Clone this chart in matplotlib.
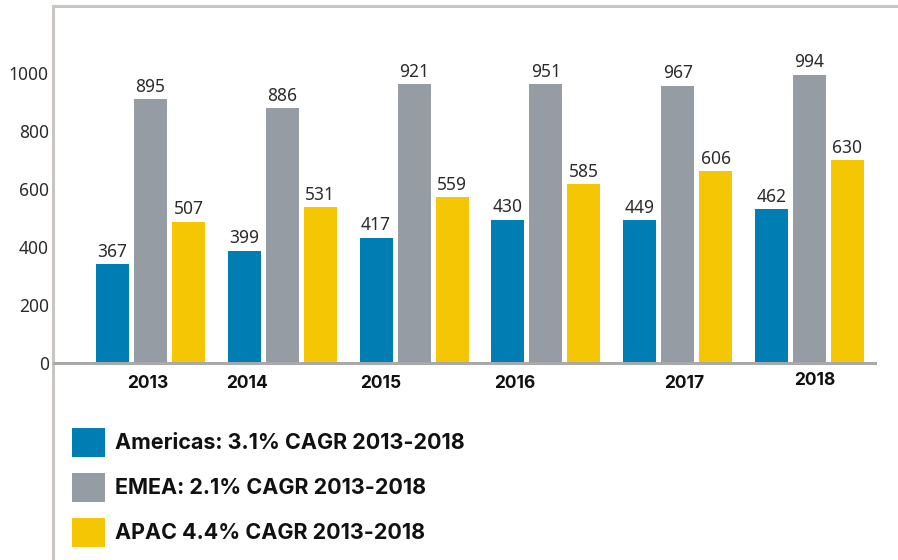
import matplotlib
matplotlib.use("Agg")
import matplotlib.pyplot as plt
from matplotlib.patches import Patch
import numpy as np

# ---- data ----
years = ["2013", "2014", "2015", "2016", "2017", "2018"]
series_names = ["Americas: 3.1% CAGR 2013-2018",
                "EMEA: 2.1% CAGR 2013-2018",
                "APAC 4.4% CAGR 2013-2018"]
# bar heights as drawn in the reference
americas = [338, 386, 431, 493, 490, 528]
emea = [907, 876, 959, 959, 955, 993]
apac = [486, 536, 570, 614, 659, 697]
# printed value labels
americas_labels = [367, 399, 417, 430, 449, 462]
emea_labels = [895, 886, 921, 951, 967, 994]
apac_labels = [507, 531, 559, 585, 606, 630]
yticks = [0, 200, 400, 600, 800, 1000]

# ---- style ----
colors = ["#007db2", "#959ca3", "#f4c604"]
text_col = "#2b2b2b"
num_font = "Noto Sans"
bold_font = "Inter"
year_shift = [-0.02, -0.27, -0.25, -0.24, 0.05, 0.04]  # year label nudges (group units)
year_dy = [0, 0, 0, 0, 0, 3]

W, H = 898, 560
fig = plt.figure(figsize=(W / 100, H / 100), dpi=100)
ax_left, ax_top = 53, 6
ax = fig.add_axes([ax_left / W, 0, (W - ax_left) / W, (H - ax_top) / H])

group_px = 131.8
step = 38 / group_px
width = 33 / group_px
c0 = 150.5
ax.set_xlim(-(c0 - ax_left) / group_px, (W - c0) / group_px)
scale = 0.290  # px per unit
zero_px = 362.5
ax.set_ylim(-(H - zero_px) / scale, (zero_px - ax_top) / scale)

x = np.arange(len(years))
all_vals = [americas, emea, apac]
all_labels = [americas_labels, emea_labels, apac_labels]
handles = []
for k, (vals, labs) in enumerate(zip(all_vals, all_labels)):
    xs = x + (k - 1) * step
    ax.bar(xs, vals, width=width, color=colors[k], zorder=2)
    handles.append(Patch(facecolor=colors[k], label=series_names[k]))
    for xi, v, lab in zip(xs, vals, labs):
        ax.annotate(str(lab), (xi, v), xytext=(0, 2.5), textcoords="offset points",
                    ha="center", va="bottom", fontsize=12.5, family=num_font,
                    color=text_col)

# zero line
ax.axhline(0, xmin=0, xmax=(875 - ax_left) / (W - ax_left), color="#a9a9a9", lw=2.2, zorder=3)

# frame: top and left lines
for s in ["right", "bottom"]:
    ax.spines[s].set_visible(False)
for s in ["top", "left"]:
    ax.spines[s].set_color("#c9c5c1")
    ax.spines[s].set_linewidth(2.2)

ax.set_xticks([])
ax.set_yticks(yticks)
ax.set_yticklabels([str(t) for t in yticks], family=num_font, fontsize=12.5, color=text_col)
ax.tick_params(axis="y", length=0, pad=3)

# year labels
for i, yr in enumerate(years):
    ax.annotate(yr, (x[i] + year_shift[i], 0), xytext=(0, -15 + year_dy[i] * 0.72),
                textcoords="offset points", ha="center", va="center",
                fontsize=12.5, fontweight="bold", family=bold_font, color="#111111")

leg = ax.legend(handles=handles, loc="upper left",
                bbox_to_anchor=((72 - ax_left) / (W - ax_left), (H - 428) / (H - ax_top)),
                frameon=False, prop={"family": bold_font, "weight": "bold", "size": 15.5},
                handlelength=1.53, handleheight=1.69, handletextpad=0.46,
                labelspacing=0.74, borderpad=0, borderaxespad=0)
for t in leg.get_texts():
    t.set_color("#111111")

fig.savefig("out.png", dpi=100)
